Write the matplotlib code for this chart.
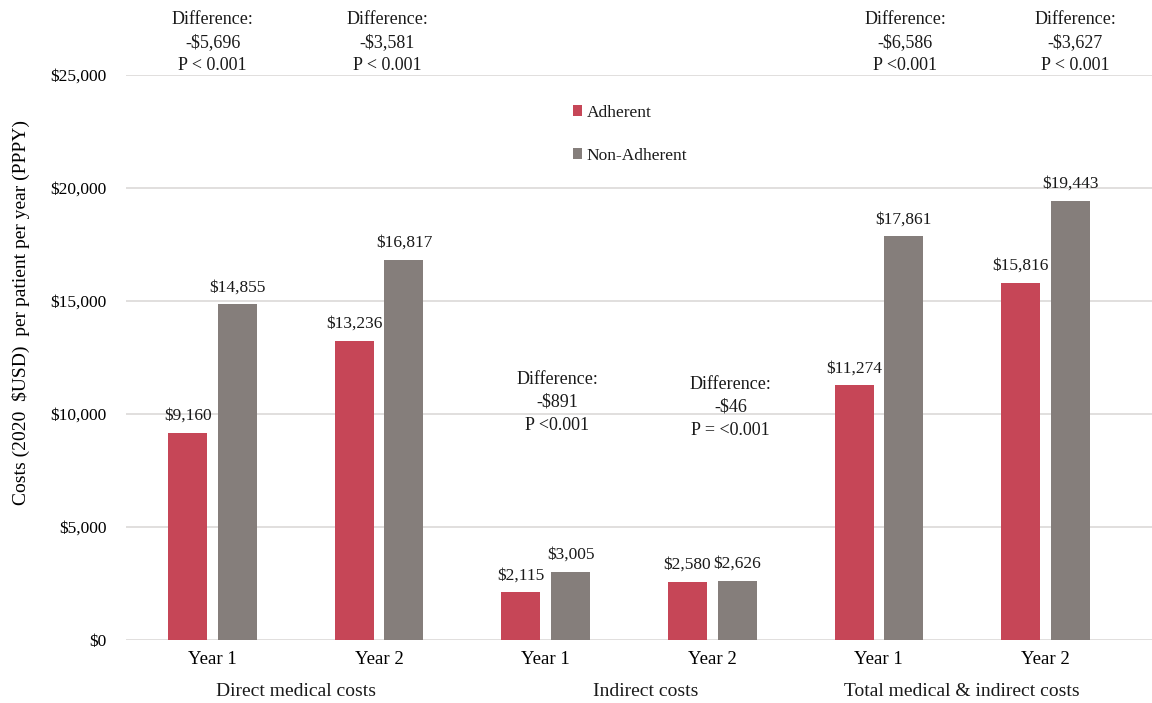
import matplotlib
matplotlib.use("Agg")
import matplotlib.pyplot as plt
import numpy as np

# ---- data ----
year_labels = ["Year 1", "Year 2", "Year 1", "Year 2", "Year 1", "Year 2"]
group_labels = ["Direct medical costs", "Indirect costs", "Total medical & indirect costs"]
adherent = [9160, 13236, 2115, 2580, 11274, 15816]
non_adherent = [14855, 16817, 3005, 2626, 17861, 19443]
diff_values = ["-\\$5,696", "-\\$3,581", "-\\$891", "-\\$46", "-\\$6,586", "-\\$3,627"]
p_values = ["P < 0.001", "P < 0.001", "P <0.001", "P = <0.001", "P <0.001", "P < 0.001"]
series_names = ["Adherent", "Non-Adherent"]
yticks = [0, 5000, 10000, 15000, 20000, 25000]

# ---- style ----
RED = "#C64657"
GRAY = "#857E7B"
plt.rcParams["font.family"] = ["Liberation Serif", "DejaVu Serif"]
plt.rcParams["text.color"] = "#1a1a1a"

fig = plt.figure(figsize=(11.52, 7.03), dpi=100)
ax = fig.add_axes([126 / 1152, 1 - 640 / 703, 1 - 126 / 1152, (640 - 75) / 703])

x = np.arange(len(adherent))
w = 0.234
off = 0.149
b1 = ax.bar(x - off, adherent, w, color=RED, label=series_names[0], zorder=3)
b2 = ax.bar(x + off, non_adherent, w, color=GRAY, label=series_names[1], zorder=3)

for bars, vals in ((b1, adherent), (b2, non_adherent)):
    for rect, v in zip(bars, vals):
        ax.annotate("\\${:,}".format(v), (rect.get_x() + rect.get_width() / 2, v),
                    xytext=(0, 6.5), textcoords="offset points", ha="center", va="bottom",
                    fontsize=12.5)

ax.set_xlim(-0.52, 5.64)
ax.set_ylim(0, 25000)
ax.set_yticks(yticks)
ax.set_yticklabels(["\\${:,}".format(t) for t in yticks], fontsize=12.5)
ax.tick_params(axis="y", length=0, pad=14)
ax.tick_params(axis="x", length=0, pad=8)
ax.set_xticks(x)
ax.set_xticklabels(year_labels, fontsize=13.5)
ax.grid(axis="y", color="#d9d6d4", linewidth=1.1, zorder=0)
for s in ax.spines.values():
    s.set_visible(False)

# group labels
group_x = [0.5, 2.6, 4.5]
for gi, g in enumerate(group_labels):
    ax.text(group_x[gi], -0.092, g, transform=ax.get_xaxis_transform(),
            ha="center", va="center", fontsize=14)

ax.set_ylabel("Costs (2020  \\$USD)  per patient per year (PPPY)", fontsize=14)
ax.yaxis.set_label_coords(-0.094, 0.58)

# difference annotations
ann_x = [0.0, 1.05, 2.07, 3.11, 4.16, 5.18]
ann_y = [26450, 26450, 10520, 10300, 26450, 26450]
for i in range(len(diff_values)):
    ax.text(ann_x[i], ann_y[i], "Difference:\n" + diff_values[i] + "\n" + p_values[i],
            ha="center", va="center", fontsize=13, linespacing=1.45, clip_on=False)

leg = ax.legend(loc="upper left", bbox_to_anchor=(564 / 1152, 1 - 96 / 703),
                bbox_transform=fig.transFigure, frameon=False, fontsize=12.5,
                handlelength=0.55, handleheight=0.55, handletextpad=0.25,
                labelspacing=1.55, borderpad=0)

fig.savefig("out.png", dpi=100)
